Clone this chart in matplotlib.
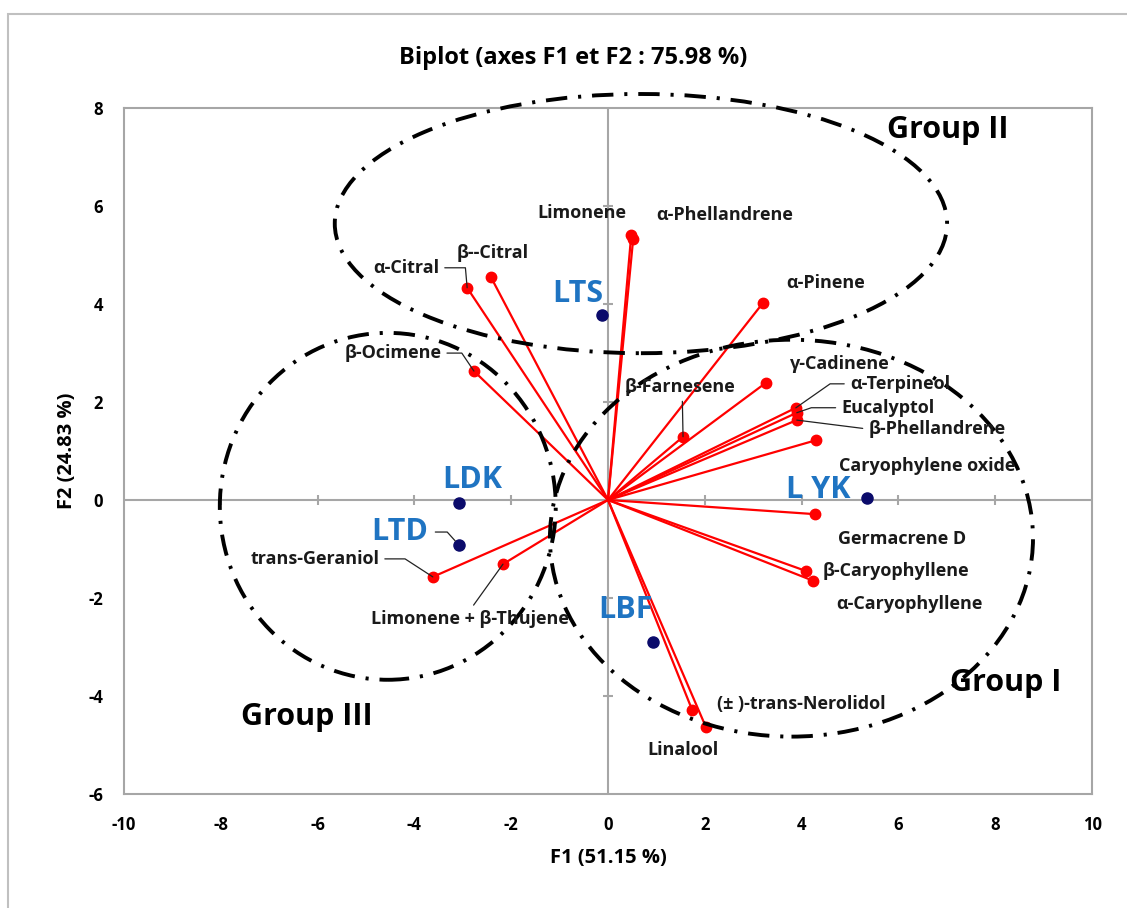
import numpy as np
import matplotlib.pyplot as plt
from matplotlib.patches import Ellipse, Rectangle

plt.rcParams['font.family'] = ['Open Sans', 'DejaVu Sans']
plt.rcParams['font.weight'] = 'bold'
plt.rcParams['axes.unicode_minus'] = False

# variable loadings (red vectors)
compounds = ['α-Phellandrene', 'Limonene', 'β--Citral', 'α-Citral', 'α-Pinene',
             'β-Ocimene', 'γ-Cadinene', 'β-Farnesene', 'α-Terpineol', 'Eucalyptol',
             'β-Phellandrene', 'Caryophylene oxide', 'Germacrene D', 'β-Caryophyllene',
             'α-Caryophyllene', 'trans-Geraniol', 'Limonene + β-Thujene',
             '(± )-trans-Nerolidol', 'Linalool']
f1_load = [0.48, 0.52, -2.42, -2.91, 3.20, -2.77, 3.26, 1.55, 3.88, 3.90,
           3.90, 4.30, 4.28, 4.09, 4.24, -3.62, -2.17, 1.74, 2.02]
f2_load = [5.41, 5.33, 4.55, 4.33, 4.02, 2.63, 2.39, 1.29, 1.88, 1.78,
           1.63, 1.22, -0.29, -1.45, -1.65, -1.57, -1.31, -4.29, -4.63]

# sample scores (observations)
samples = ['LTS', 'L YK', 'LDK', 'LTD', 'LBF']
f1_score = [-0.12, 5.35, -3.08, -3.08, 0.93]
f2_score = [3.78, 0.04, -0.06, -0.92, -2.90]

# group ellipses
groups = ['Group I', 'Group II', 'Group III']
group_cx = [3.79, 0.68, -4.55]
group_cy = [-0.78, 5.64, -0.13]
group_w = [9.98, 12.65, 6.94]
group_h = [8.10, 5.29, 7.08]

# label offsets in pixels from each point, plus leader line settings
comp_offset = {
    'α-Phellandrene': (93, 20), 'Limonene': (-51, 26), 'β--Citral': (2, 24),
    'α-Citral': (-61, 20), 'α-Pinene': (63, 20), 'β-Ocimene': (-81, 18),
    'γ-Cadinene': (74, 19), 'β-Farnesene': (-3, 50), 'α-Terpineol': (104, 24),
    'Eucalyptol': (91, 5), 'β-Phellandrene': (140, -9),
    'Caryophylene oxide': (111, -26), 'Germacrene D': (87, -25),
    'β-Caryophyllene': (90, 0), 'α-Caryophyllene': (96, -23),
    'trans-Geraniol': (-118, 18), 'Limonene + β-Thujene': (-33, -55),
    '(± )-trans-Nerolidol': (109, 6), 'Linalool': (-23, -23),
}
leaders = {
    'α-Citral': ((1, 0.5), 'angle,angleA=0,angleB=95,rad=0'),
    'β-Ocimene': ((1, 0.5), 'angle,angleA=0,angleB=-56,rad=0'),
    'trans-Geraniol': ((1, 0.5), 'angle,angleA=0,angleB=-33,rad=0'),
    'α-Terpineol': ((0, 0.5), 'angle,angleA=0,angleB=35,rad=0'),
    'Eucalyptol': ((0, 0.5), 'angle,angleA=0,angleB=19,rad=0'),
    'β-Phellandrene': ((0, 0.5), 'arc3,rad=0'),
    'β-Farnesene': ((0.52, 0), 'arc3,rad=0'),
    'Limonene + β-Thujene': ((0.5, 1), 'arc3,rad=0'),
}
sample_offset = {'LTS': (-24, 21), 'L YK': (-49, 8), 'LDK': (13, 23),
                 'LTD': (-59, 13), 'LBF': (-28, 32)}
group_label_pos = {'Group I': (8.22, -3.73), 'Group II': (7.02, 7.55),
                   'Group III': (-6.22, -4.43)}

fig = plt.figure(figsize=(11.27, 9.08), dpi=100)
ax = fig.add_axes([0.110, 0.1256, 0.859, 0.7555])

# outer chart frame
fig.patches.append(Rectangle((0.0071, -0.1), 1.2, 1.0846, transform=fig.transFigure,
                             fill=False, edgecolor='#c0c0c0', lw=1.5))

grey = '#a6a6a6'
ax.set_xlim(-10, 10)
ax.set_ylim(-6, 8)
ax.set_xticks(np.arange(-10, 11, 2))
ax.set_yticks(np.arange(-6, 9, 2))
ax.tick_params(length=0, labelsize=12)
ax.tick_params(axis='x', pad=16)
ax.tick_params(axis='y', pad=15)
for s in ax.spines.values():
    s.set_color(grey)
    s.set_linewidth(1.5)

# zero axes with cross ticks
ax.axhline(0, color=grey, lw=1.5, zorder=1)
ax.axvline(0, color=grey, lw=1.5, zorder=1)
xt = np.arange(-8, 10, 2)
yt = np.arange(-4, 8, 2)
ax.plot(xt, np.zeros_like(xt), ls='none', marker='|', ms=7, mew=1.5, color=grey, zorder=1)
ax.plot(np.zeros_like(yt), yt, ls='none', marker='_', ms=7, mew=1.5, color=grey, zorder=1)

# loading vectors
for x, y in zip(f1_load, f2_load):
    ax.plot([0, x], [0, y], color='red', lw=1.6, zorder=2)
ax.plot(f1_load, f2_load, ls='none', marker='o', ms=7.5, color='red', zorder=3)

# sample points
ax.plot(f1_score, f2_score, ls='none', marker='o', ms=8, color='#0b0b6b', zorder=3)

# group ellipses
for g, cx, cy, w, h in zip(groups, group_cx, group_cy, group_w, group_h):
    e = Ellipse((cx, cy), w, h, fill=False, edgecolor='black', lw=2.8,
                linestyle=(0, (5.5, 2.8, 0.8, 2.8)), zorder=4, clip_on=False)
    ax.add_patch(e)
    gx, gy = group_label_pos[g]
    ax.text(gx, gy, g, fontsize=22, ha='center', va='center', color='black', zorder=6)

# variable labels
for name, x, y in zip(compounds, f1_load, f2_load):
    kw = {}
    if name in leaders:
        rp, cs = leaders[name]
        kw['arrowprops'] = dict(arrowstyle='-', color='#222222', lw=0.9, relpos=rp,
                                connectionstyle=cs, shrinkA=2, shrinkB=0)
    ax.annotate(name, xy=(x, y), xytext=comp_offset[name], textcoords='offset pixels',
                ha='center', va='center', fontsize=13, color='#1a1a1a', zorder=6, **kw)

# sample labels
for name, x, y in zip(samples, f1_score, f2_score):
    kw = {}
    if name == 'LTD':
        kw['arrowprops'] = dict(arrowstyle='-', color='#222222', lw=0.9, relpos=(1, 0.5),
                                connectionstyle='angle,angleA=0,angleB=-48,rad=0',
                                shrinkA=3, shrinkB=4)
    ax.annotate(name, xy=(x, y), xytext=sample_offset[name], textcoords='offset pixels',
                ha='center', va='center', fontsize=22, color='#1f74c2', zorder=6, **kw)

# title sits centred on the chart area, not the plot box
ax.set_title('Biplot (axes F1 et F2 : 75.98 %)', fontsize=17, fontweight='bold',
             pad=32, x=0.464)
ax.set_xlabel('F1 (51.15 %)', fontsize=14.5, fontweight='bold', labelpad=10)
ax.set_ylabel('F2 (24.83 %)', fontsize=14.5, fontweight='bold', labelpad=8)

fig.savefig('out.png', dpi=100)
